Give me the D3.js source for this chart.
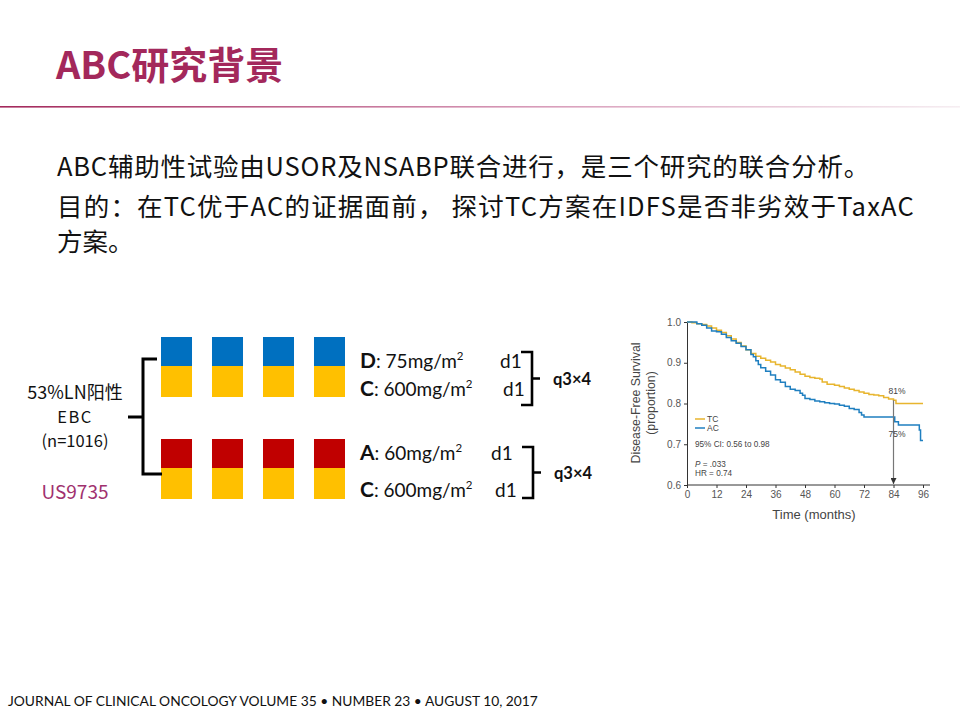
<!DOCTYPE html>
<html>
<head>
<meta charset="utf-8">
<script src="https://cdn.jsdelivr.net/npm/d3@7"></script>
<style>
  html, body { margin: 0; padding: 0; background: #fff; }
  svg { display: block; }
</style>
</head>
<body>
<svg id="chart" width="960" height="720"></svg>
<script>
// ---------- data ----------
const titleText = "ABC研究背景";
const bodyLines = [
  "ABC辅助性试验由USOR及NSABP联合进行，是三个研究的联合分析。",
  "目的：在TC优于AC的证据面前， 探讨TC方案在IDFS是否非劣效于TaxAC",
  "方案。"
];
const footerText = "JOURNAL OF CLINICAL ONCOLOGY VOLUME 35 • NUMBER 23 • AUGUST 10, 2017";

const cycles = [1, 2, 3, 4];
const armTop = { drug1: "D", dose1: ": 75mg/m", drug2: "C", dose2: ": 600mg/m", schedule: "q3×4" };
const armBottom = { drug1: "A", dose1: ": 60mg/m", drug2: "C", dose2: ": 600mg/m", schedule: "q3×4" };
const populationLines = ["53%LN阳性", "EBC", "(n=1016)"];
const studyName = "US9735";

// Kaplan-Meier curves (months, DFS proportion)
const tcMonths = [0,2,4,6,8,10,12,14,16,18,20,22,24,26,28,30,32,34,36,38,40,42,44,46,48,50,52,54,55,57,60,62,64,66,68,70,72,74,76,78,80,82,84,85,96];
const tcSurv   = [1.0,0.998,0.996,0.994,0.99,0.985,0.98,0.974,0.966,0.958,0.95,0.941,0.932,0.923,0.916,0.911,0.906,0.902,0.896,0.892,0.887,0.883,0.877,0.872,0.867,0.864,0.862,0.86,0.853,0.847,0.845,0.842,0.838,0.835,0.832,0.828,0.825,0.822,0.821,0.819,0.815,0.811,0.808,0.80,0.80];
const acMonths = [0,2,4,6,8,10,12,14,16,18,20,22,24,26,27,28,29,30,32,34,36,38,40,42,44,46,47,48,50,52,54,56,58,60,62,64,66,68,70,71,72,83.5,84.5,86,93.5,94.5,95,96];
const acSurv   = [1.0,1.0,0.996,0.992,0.985,0.978,0.976,0.97,0.962,0.954,0.948,0.94,0.932,0.92,0.915,0.905,0.896,0.888,0.879,0.87,0.858,0.852,0.842,0.835,0.832,0.825,0.82,0.812,0.81,0.806,0.804,0.802,0.80,0.799,0.796,0.793,0.788,0.785,0.778,0.772,0.767,0.767,0.755,0.747,0.747,0.735,0.709,0.709];
const xTicks = [0,12,24,36,48,60,72,84,96];
const yTicks = [0.6,0.7,0.8,0.9,1.0];
const legendNames = ["TC", "AC"];
const statLines = ["95% CI: 0.56 to 0.98", "P = .033", "HR = 0.74"];
const markMonth = 84;
const markLabels = ["81%", "75%"];

// ---------- styles ----------
const CRIMSON = "#a3285b";
const BLUE_BLOCK = "#0070c0";
const YELLOW_BLOCK = "#ffc000";
const RED_BLOCK = "#c00000";
const TC_COLOR = "#e8b52e";
const AC_COLOR = "#1f7fc0";
const CJK = "'Noto Sans CJK SC', 'Noto Sans', sans-serif";
const LATIN = "Lato, 'Noto Sans', sans-serif";
const ARIAL = "'Liberation Sans', Arial, sans-serif";
const NARROW = "'Liberation Sans Narrow', 'Liberation Sans', Arial, sans-serif";

const svg = d3.select("#chart");

// ---------- header ----------
svg.append("text")
  .attr("x", 56).attr("y", 79)
  .attr("font-family", CJK).attr("font-weight", 700).attr("font-size", 38)
  .attr("fill", CRIMSON).text(titleText);

const grad = svg.append("defs").append("linearGradient").attr("id", "hr");
grad.append("stop").attr("offset", "0%").attr("stop-color", CRIMSON);
grad.append("stop").attr("offset", "55%").attr("stop-color", "#d79ab8");
grad.append("stop").attr("offset", "100%").attr("stop-color", "#f6eef2");
svg.append("rect").attr("x", 0).attr("y", 106).attr("width", 960).attr("height", 1.6).attr("fill", "url(#hr)");

// body text (letter-spaced to the reference line widths)
const bodyY = [176, 216, 251];
const bodyTargets = [813, 858, null];
bodyLines.forEach((t, i) => {
  const el = svg.append("text").attr("class", "body")
    .attr("x", 57).attr("y", bodyY[i])
    .attr("font-family", CJK).attr("font-size", 25.5).attr("fill", "#111")
    .text(t);
  if (bodyTargets[i]) {
    const len = el.node().getComputedTextLength();
    const ls = (bodyTargets[i] - len) / t.length;
    el.attr("letter-spacing", Math.max(0, ls));
  }
});

// ---------- regimen diagram ----------
const colX = d3.scaleBand().domain(cycles).range([161, 345]).paddingInner(0.392).paddingOuter(0);
function blockRow(y0, topColor) {
  const g = svg.append("g");
  g.selectAll("rect.top").data(cycles).join("rect")
    .attr("x", d => colX(d)).attr("y", y0).attr("width", colX.bandwidth()).attr("height", 29)
    .attr("fill", topColor);
  g.selectAll("rect.bot").data(cycles).join("rect")
    .attr("x", d => colX(d)).attr("y", y0 + 29).attr("width", colX.bandwidth()).attr("height", 31)
    .attr("fill", YELLOW_BLOCK);
}
blockRow(337, BLUE_BLOCK);
blockRow(439, RED_BLOCK);

// left bracket
svg.append("path")
  .attr("d", "M157,359 H143 V474 H162 M128,417 H143")
  .attr("fill", "none").attr("stroke", "#000").attr("stroke-width", 3);

populationLines.forEach((t, i) => {
  svg.append("text").attr("x", 75).attr("y", [399, 423, 447][i])
    .attr("text-anchor", "middle").attr("font-family", CJK)
    .attr("font-size", i === 0 ? 18 : 16.5).attr("letter-spacing", i === 1 ? 1.5 : 0)
    .attr("fill", "#111").text(t);
});
svg.append("text").attr("x", 75).attr("y", 499).attr("text-anchor", "middle")
  .attr("font-family", CJK).attr("font-size", 19).attr("fill", "#a0306e").text(studyName);

function doseLine(x, y, drug, dose, d1x) {
  const t = svg.append("text").attr("x", x).attr("y", y)
    .attr("font-family", LATIN).attr("font-size", 19).attr("fill", "#111");
  t.append("tspan").attr("font-weight", 700).attr("font-size", 21).text(drug);
  t.append("tspan").text(dose);
  t.append("tspan").attr("font-size", 11.5).attr("dy", -8).text("2");
  svg.append("text").attr("x", d1x).attr("y", y)
    .attr("font-family", LATIN).attr("font-size", 19).attr("fill", "#111").text("d1");
}
doseLine(360, 368, armTop.drug1, armTop.dose1, 500);
doseLine(360, 396, armTop.drug2, armTop.dose2, 503);
doseLine(360, 460, armBottom.drug1, armBottom.dose1, 491);
doseLine(360, 497, armBottom.drug2, armBottom.dose2, 495);

function rightBracket(x, y0, y1, label) {
  const ym = (y0 + y1) / 2;
  svg.append("path")
    .attr("d", `M${x - 11},${y0} H${x} V${y1} H${x - 11} M${x},${ym} H${x + 8}`)
    .attr("fill", "none").attr("stroke", "#000").attr("stroke-width", 2.6);
  svg.append("text").attr("x", x + 21).attr("y", ym + 6)
    .attr("font-family", LATIN).attr("font-weight", 700).attr("font-size", 16.5)
    .attr("fill", "#111").text(label);
}
rightBracket(532, 352, 405, armTop.schedule);
rightBracket(533, 447, 498, armBottom.schedule);

// ---------- Kaplan-Meier ----------
const x = d3.scaleLinear().domain([0, 96]).range([687, 923]);
const y = d3.scaleLinear().domain([0.6, 1.0]).range([485, 322]);

const axisColor = "#333";
const gx = svg.append("g").attr("transform", "translate(0,485)")
  .call(d3.axisBottom(x).tickValues(xTicks).tickSize(3).tickSizeOuter(0));
gx.select(".domain").attr("d", "M687,0H930").attr("stroke", axisColor);
const gy = svg.append("g").attr("transform", "translate(687,0)")
  .call(d3.axisLeft(y).tickValues(yTicks).tickFormat(d3.format(".1f")).tickSize(3).tickSizeOuter(0));
[gx, gy].forEach(g => {
  g.selectAll(".tick line").attr("stroke", axisColor);
  g.select(".domain").attr("stroke", axisColor);
  g.selectAll(".tick text").attr("font-family", ARIAL).attr("font-size", 10).attr("fill", "#555");
});

const line = d3.line().x(d => x(d[0])).y(d => y(d[1])).curve(d3.curveStepAfter);
svg.append("path").datum(tcMonths.map((m, i) => [m, tcSurv[i]]))
  .attr("d", line).attr("fill", "none").attr("stroke", TC_COLOR).attr("stroke-width", 1.5);
svg.append("path").datum(acMonths.map((m, i) => [m, acSurv[i]]))
  .attr("d", line).attr("fill", "none").attr("stroke", AC_COLOR).attr("stroke-width", 1.5);

// 84-month marker
svg.append("defs").append("marker").attr("id", "arr")
  .attr("viewBox", "0 0 10 10").attr("refX", 10).attr("refY", 5)
  .attr("markerWidth", 5).attr("markerHeight", 5).attr("orient", "auto")
  .append("path").attr("d", "M0,0 L10,5 L0,10 Z").attr("fill", "#333");
svg.append("line").attr("x1", x(markMonth)).attr("x2", x(markMonth))
  .attr("y1", y(0.808)).attr("y2", y(0.6) - 1)
  .attr("stroke", "#777").attr("stroke-width", 1.2).attr("marker-end", "url(#arr)");
svg.append("text").attr("x", x(markMonth) - 5).attr("y", 394).attr("font-family", ARIAL)
  .attr("font-size", 8.5).attr("fill", "#444").text(markLabels[0]);
svg.append("text").attr("x", x(markMonth) - 5).attr("y", 437).attr("font-family", ARIAL)
  .attr("font-size", 8.5).attr("fill", "#444").text(markLabels[1]);

// legend
[TC_COLOR, AC_COLOR].forEach((c, i) => {
  const ly = 419 + i * 9;
  svg.append("line").attr("x1", 695).attr("x2", 705).attr("y1", ly).attr("y2", ly)
    .attr("stroke", c).attr("stroke-width", 1.5);
  svg.append("text").attr("x", 707).attr("y", ly + 3).attr("font-family", ARIAL)
    .attr("font-size", 8.5).attr("fill", "#444").text(legendNames[i]);
});
svg.append("text").attr("x", 695).attr("y", 447).attr("font-family", ARIAL)
  .attr("font-size", 8.2).attr("fill", "#444").text(statLines[0]);
const pt = svg.append("text").attr("x", 695).attr("y", 467).attr("font-family", ARIAL)
  .attr("font-size", 8.2).attr("fill", "#444");
pt.append("tspan").attr("font-style", "italic").text("P");
pt.append("tspan").text(statLines[1].slice(1));
svg.append("text").attr("x", 695).attr("y", 476).attr("font-family", ARIAL)
  .attr("font-size", 8.2).attr("fill", "#444").text(statLines[2]);

// axis titles
svg.append("text").attr("transform", "translate(640,403) rotate(-90)")
  .attr("text-anchor", "middle").attr("font-family", NARROW).attr("font-size", 12.3)
  .attr("fill", "#444").text("Disease-Free Survival");
svg.append("text").attr("transform", "translate(655,403) rotate(-90)")
  .attr("text-anchor", "middle").attr("font-family", NARROW).attr("font-size", 12.3)
  .attr("fill", "#444").text("(proportion)");
svg.append("text").attr("x", 814).attr("y", 519).attr("text-anchor", "middle")
  .attr("font-family", NARROW).attr("font-size", 13).attr("fill", "#444").text("Time (months)");

// footer
svg.append("text").attr("x", 8).attr("y", 706).attr("font-family", LATIN)
  .attr("font-size", 13.8).attr("fill", "#111").text(footerText);
</script>
</body>
</html>
